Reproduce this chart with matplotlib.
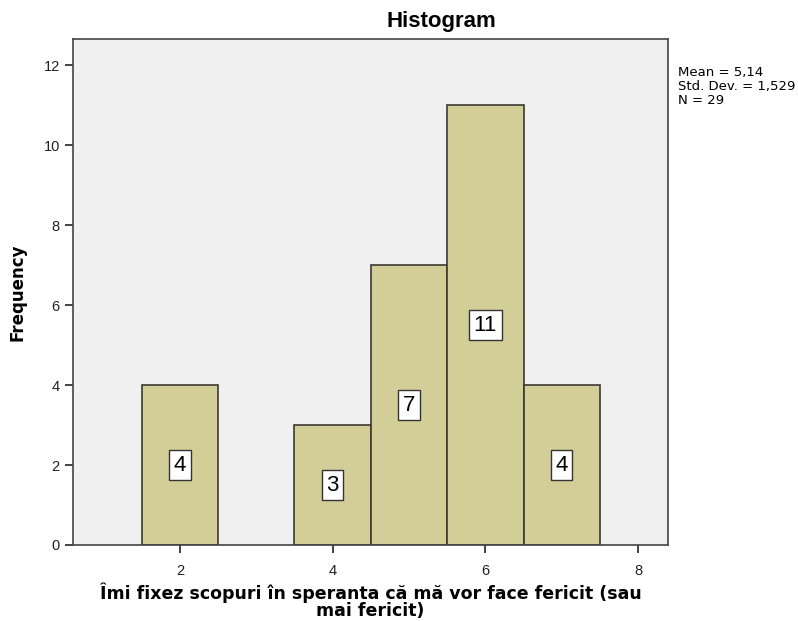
import matplotlib
matplotlib.use("Agg")
import matplotlib.pyplot as plt

plt.rcParams['font.family'] = ['Liberation Sans', 'DejaVu Sans']

# data
values = [2, 4, 5, 6, 7]
counts = [4, 3, 7, 11, 4]
xticks = [2, 4, 6, 8]
yticks = [0, 2, 4, 6, 8, 10, 12]
stats_text = "Mean = 5,14\nStd. Dev. = 1,529\nN = 29"
xlabel = "Îmi fixez scopuri în speranta că mă vor face fericit (sau\nmai fericit)"

fig = plt.figure(figsize=(7.98, 6.21), dpi=100)
ax = fig.add_axes([0.0915, 0.1224, 0.7455, 0.8146])
ax.set_facecolor("#f0f0f0")

ax.bar(values, counts, width=1.0, color="#d3ce97", edgecolor="#3a3a32", linewidth=1.2, zorder=2)
for v, c in zip(values, counts):
    ax.text(v, c / 2, str(c), ha="center", va="center", fontsize=16, zorder=3,
            bbox=dict(boxstyle="square,pad=0.2", fc="white", ec="#333333", lw=1))

ax.set_xlim(0.6, 8.39)
ax.set_ylim(0, 12.65)
ax.set_xticks(xticks)
ax.set_yticks(yticks)
ax.tick_params(direction="out", length=6, width=1.2, labelsize=10.5, colors="#222222")
ax.tick_params(axis="x", pad=8)
for s in ax.spines.values():
    s.set_color("#444444")
    s.set_linewidth(1.2)

ax.set_xlabel(xlabel, fontsize=12.5, fontweight="bold", family="DejaVu Sans",
              labelpad=3, linespacing=0.95)
ax.set_ylabel("Frequency", fontsize=12, fontweight="bold", family="DejaVu Sans", labelpad=12)
fig.text(441 / 798, 1 - 21 / 621, "Histogram", ha="center", va="center", fontsize=16, fontweight="bold")
fig.text(678 / 798, 1 - 66 / 621, stats_text, ha="left", va="top", fontsize=9.5,
         family="DejaVu Sans", linespacing=1.1)

fig.savefig("out.png", dpi=100)
